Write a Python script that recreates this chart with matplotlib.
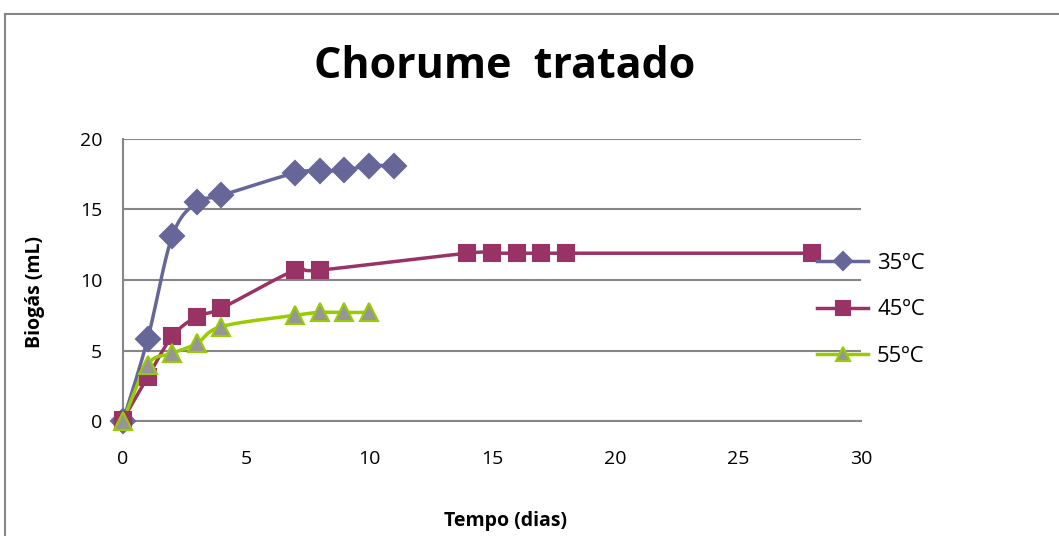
import numpy as np
import matplotlib

matplotlib.use("Agg")
import matplotlib.pyplot as plt
from matplotlib.patches import Rectangle

days_35 = [0, 1, 2, 3, 4, 7, 8, 9, 10, 11]
gas_35 = [0.0, 5.8, 13.1, 15.5, 16.0, 17.6, 17.7, 17.8, 18.1, 18.1]

days_45 = [0, 1, 2, 3, 4, 7, 8, 14, 15, 16, 17, 18, 28]
gas_45 = [0.1, 3.1, 6.0, 7.4, 8.0, 10.7, 10.7, 11.9, 11.9, 11.9, 11.9, 11.9, 11.9]

days_55 = [0, 1, 2, 3, 4, 7, 8, 9, 10]
gas_55 = [0.0, 4.0, 4.8, 5.5, 6.7, 7.5, 7.7, 7.7, 7.7]

series_labels = ["35ºC", "45ºC", "55ºC"]


def smooth(x, y, n=20):
    # Catmull-Rom style curve, like Excel's smoothed line
    x = np.asarray(x, float)
    y = np.asarray(y, float)
    px = np.concatenate([[x[0]], x, [x[-1]]])
    py = np.concatenate([[y[0]], y, [y[-1]]])
    xs, ys = [], []
    t = np.linspace(0, 1, n)
    for i in range(1, len(px) - 2):
        p0, p1, p2, p3 = (np.array([px[j], py[j]]) for j in (i - 1, i, i + 1, i + 2))
        c1 = p1 + (p2 - p0) / 6
        c2 = p2 - (p3 - p1) / 6
        pts = ((1 - t) ** 3)[:, None] * p1 + (3 * (1 - t) ** 2 * t)[:, None] * c1 \
            + (3 * (1 - t) * t ** 2)[:, None] * c2 + (t ** 3)[:, None] * p2
        xs.extend(pts[:, 0])
        ys.extend(pts[:, 1])
    return xs, ys


plt.rcParams["font.family"] = ["Open Sans", "DejaVu Sans"]

fig = plt.figure(figsize=(10.59, 5.36), dpi=100)
fig.patches.append(Rectangle((5 / 1059, -0.1), 1.2, 1.1 - 14 / 536,
                             transform=fig.transFigure, fill=False,
                             edgecolor="#868686", linewidth=1.5))
ax = fig.add_axes([123 / 1059, 1 - 421 / 536, (861 - 123) / 1059, (421 - 139) / 536])

styles = [
    (days_35, gas_35, "#666699", "D", "#666699", "#666699", 12),
    (days_45, gas_45, "#993366", "s", "#993366", "#993366", 12),
    (days_55, gas_55, "#99CC00", "^", "#969696", "#99CC00", 13),
]

handles = []
for (x, y, color, marker, face, edge, ms), label in zip(styles, series_labels):
    sx, sy = smooth(x, y)
    ax.plot(sx, sy, color=color, linewidth=2.5, zorder=3, clip_on=False)
    ax.plot(x, y, linestyle="none", marker=marker, markersize=ms,
            markerfacecolor=face, markeredgecolor=edge, markeredgewidth=1.5,
            zorder=4, clip_on=False)
    h, = ax.plot([], [], color=color, linewidth=2.5, marker=marker, markersize=ms * 0.8,
                 markerfacecolor=face, markeredgecolor=edge, markeredgewidth=1.5)
    handles.append(h)

ax.set_xlim(0, 30)
ax.set_ylim(0, 20)
ax.set_xticks(range(0, 31, 5))
ax.set_yticks(range(0, 21, 5))
ax.tick_params(axis="x", length=0, labelsize=14, pad=21)
ax.tick_params(axis="y", length=0, labelsize=14, pad=15)
ax.grid(axis="y", color="#868686", linewidth=1.5)
ax.set_axisbelow(True)
for side in ("top", "right"):
    ax.spines[side].set_visible(False)
for side in ("left", "bottom"):
    ax.spines[side].set_color("#868686")
    ax.spines[side].set_linewidth(1.5)

fig.text(505 / 1059, 1 - 67 / 536, "Chorume  tratado", ha="center", va="center",
         fontsize=31, fontweight="bold")
fig.text(35 / 1059, 1 - 292 / 536, "Biogás (mL)", ha="center", va="center",
         rotation=90, fontsize=14, fontweight="bold")
fig.text(505 / 1059, 1 - 521 / 536, "Tempo (dias)", ha="center", va="center",
         fontsize=14, fontweight="bold")

fig.legend(handles, series_labels, loc="center left",
           bbox_to_anchor=(797 / 1059, 1 - 310 / 536), frameon=False,
           fontsize=16, handlelength=2.3, labelspacing=1.15, handletextpad=0.4)

fig.savefig("out.png", dpi=100)
